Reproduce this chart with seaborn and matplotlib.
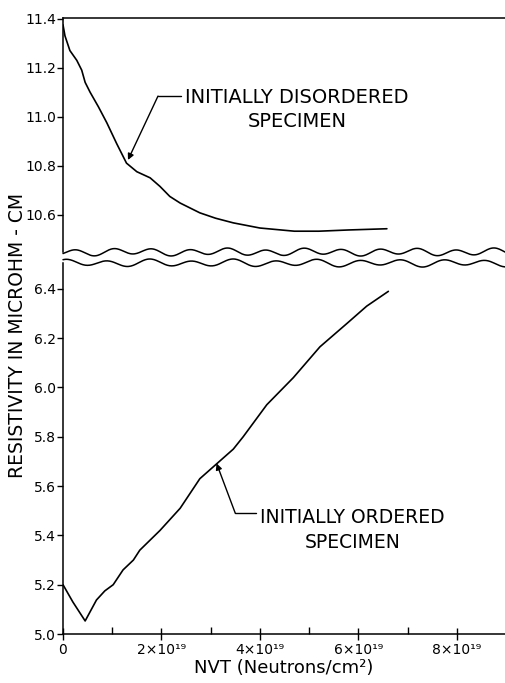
import numpy as np
import matplotlib
matplotlib.use("Agg")
import matplotlib.pyplot as plt
import seaborn as sns

# fluence in units of 1e19 neutrons/cm2, resistivity in microhm-cm
nvt_disordered = [0, 0.04, 0.14, 0.28, 0.38, 0.45, 0.55, 0.72, 0.89, 1.09, 1.29,
                  1.50, 1.77, 1.97, 2.17, 2.38, 2.78, 3.1, 3.46, 4.0, 4.7, 5.2, 5.8, 6.58]
rho_disordered = [11.375, 11.33, 11.27, 11.23, 11.19, 11.14, 11.10, 11.04, 10.975,
                  10.89, 10.81, 10.775, 10.75, 10.715, 10.674, 10.647, 10.607,
                  10.585, 10.566, 10.545, 10.532, 10.532, 10.537, 10.542]

nvt_ordered = [0, 0.2, 0.45, 0.68, 0.85, 1.02, 1.22, 1.43, 1.56, 1.97, 2.38, 2.78,
               3.12, 3.46, 3.66, 4.14, 4.68, 5.22, 5.77, 6.17, 6.61]
rho_ordered = [5.20, 5.13, 5.053, 5.138, 5.175, 5.20, 5.26, 5.30, 5.34, 5.42, 5.51,
               5.63, 5.69, 5.75, 5.80, 5.93, 6.04, 6.165, 6.26, 6.33, 6.39]

x_major = [0, 2, 4, 6, 8]
x_minor = [1, 3, 5, 7]
x_tick_labels = ["0", "2×10¹⁹", "4×10¹⁹", "6×10¹⁹", "8×10¹⁹"]
y_upper_ticks = [10.6, 10.8, 11.0, 11.2, 11.4]
y_lower_ticks = [5.0, 5.2, 5.4, 5.6, 5.8, 6.0, 6.2, 6.4]

sns.set_style("ticks")
plt.rcParams["font.family"] = ["DejaVu Sans"]
plt.rcParams["text.color"] = "black"
plt.rcParams["xtick.color"] = "black"
plt.rcParams["ytick.color"] = "black"
plt.rcParams["axes.edgecolor"] = "black"

W, H = 506, 683
fig = plt.figure(figsize=(W / 100, H / 100), dpi=100)

def px_axes(left, top, right, bottom):
    return fig.add_axes([left / W, 1 - bottom / H, (right - left) / W, (bottom - top) / H])

ax_up = px_axes(63, 18, 506, 252)
ax_lo = px_axes(63, 263, 506, 634)

lw = 1.2
sns.lineplot(x=nvt_disordered, y=rho_disordered, ax=ax_up, color="black", lw=lw)
sns.lineplot(x=nvt_ordered, y=rho_ordered, ax=ax_lo, color="black", lw=lw)

for ax in (ax_up, ax_lo):
    ax.set_xlim(0, 9.0)
    ax.spines["right"].set_visible(False)
    for s in ax.spines.values():
        s.set_linewidth(1.1)
    ax.tick_params(axis="y", direction="out", length=4, width=1.0,
                   labelsize=10, pad=1)
    ax.set_xlabel("")
    ax.set_ylabel("")

ax_up.set_ylim(10.447, 11.403)
ax_up.spines["bottom"].set_visible(False)
ax_up.set_xticks([])
ax_up.set_yticks(y_upper_ticks)
ax_up.set_yticklabels([f"{v:.1f}" for v in y_upper_ticks])

ax_lo.set_ylim(5.0, 6.505)
ax_lo.spines["top"].set_visible(False)
ax_lo.set_yticks(y_lower_ticks)
ax_lo.set_yticklabels([f"{v:.1f}" for v in y_lower_ticks])
ax_lo.set_xticks(x_major)
ax_lo.set_xticklabels(x_tick_labels)
ax_lo.set_xticks(x_minor, minor=True)
ax_lo.tick_params(axis="x", which="major", direction="inout", length=9, width=1.0,
                  labelsize=10, pad=2)
ax_lo.tick_params(axis="x", which="minor", direction="in", length=5, width=1.0)

# wavy break lines
t = np.linspace(0, 1, 600)
wave_px = t * 443
wave_a = np.sin(2 * np.pi * wave_px / 38 + 2.6) + 0.35 * np.sin(2 * np.pi * wave_px / 91)
wave_b = np.sin(2 * np.pi * wave_px / 42 + 1.2) + 0.35 * np.sin(2 * np.pi * wave_px / 77 + 0.5)
ax_up.plot(t, -wave_a * 3 / 234, transform=ax_up.transAxes, color="black",
           lw=1.1, clip_on=False)
ax_lo.plot(t, 1 + wave_b * 3 / 371, transform=ax_lo.transAxes, color="black",
           lw=1.1, clip_on=False)

# annotations
arrow = dict(arrowstyle="-|>", color="black", lw=1.0, mutation_scale=9,
             shrinkA=0, shrinkB=0)
ax_up.plot([1.93, 2.40], [11.084, 11.084], color="black", lw=1.0)
ax_up.annotate("", xy=(1.32, 10.823), xytext=(1.93, 11.084), arrowprops=arrow)
ax_up.text(4.75, 11.03, "INITIALLY DISORDERED\nSPECIMEN", ha="center", va="center",
           multialignment="center", fontsize=14, linespacing=1.35)

ax_lo.plot([3.50, 3.92], [5.49, 5.49], color="black", lw=1.0)
ax_lo.annotate("", xy=(3.12, 5.692), xytext=(3.50, 5.49), arrowprops=arrow)
ax_lo.text(5.88, 5.42, "INITIALLY ORDERED\nSPECIMEN", ha="center", va="center",
           multialignment="center", fontsize=13.5, linespacing=1.4)

fig.text(18 / W, 1 - 335 / H, "RESISTIVITY IN MICROHM - CM", rotation=90,
         ha="center", va="center", fontsize=13.5)
fig.text(284 / W, 1 - 668 / H, "NVT (Neutrons/cm²)", ha="center", va="center",
         fontsize=13)

fig.savefig("out.png", dpi=100)
